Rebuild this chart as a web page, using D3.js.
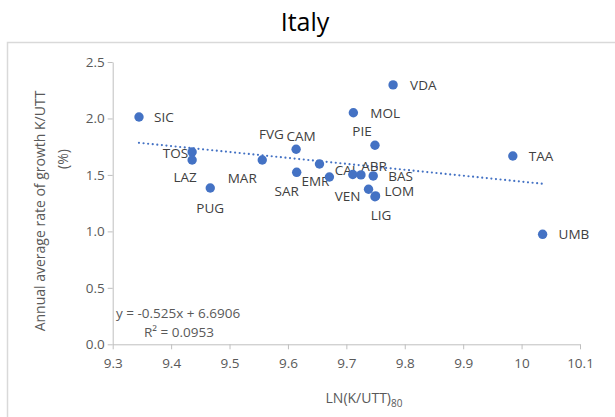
<!DOCTYPE html>
<html>
<head>
<meta charset="utf-8">
<script src="https://cdn.jsdelivr.net/npm/d3@7"></script>
<style>
  body { margin: 0; background: #fff; }
  text { font-family: "Open Sans", sans-serif; }
</style>
</head>
<body>
<svg id="main" width="615" height="417"></svg>
<script>
// regions and values
const regions = ['SIC', 'TOS', 'LAZ', 'PUG', 'MAR', 'CAM', 'SAR', 'FVG', 'EMR', 'CAL',
	'ABR', 'BAS', 'VEN', 'LOM', 'LIG', 'PIE', 'MOL', 'VDA', 'TAA', 'UMB'];
const lnK80 = [9.345, 9.436, 9.436, 9.467, 9.556, 9.614, 9.615, 9.654, 9.671, 9.711,
	9.725, 9.746, 9.738, 9.750, 9.749, 9.749, 9.712, 9.780, 9.985, 10.036];
const growth = [2.013, 1.703, 1.632, 1.384, 1.632, 1.727, 1.523, 1.597, 1.482, 1.504,
	1.500, 1.491, 1.373, 1.314, 1.307, 1.763, 2.051, 2.297, 1.668, 0.974];
const xTicks = [9.3, 9.4, 9.5, 9.6, 9.7, 9.8, 9.9, 10, 10.1];
const yTicks = [0, 0.5, 1, 1.5, 2, 2.5];
const slope = -0.525, intercept = 6.6906, r2 = '0.0953';

// where each data label sits relative to its point (px)
const labelPos = {
	SIC: ['start', 15, 0], TOS: ['end', -4, 1], LAZ: ['middle', -7, 17], PUG: ['middle', 0, 20],
	MAR: ['middle', -20, 18], CAM: ['middle', 5, -13], SAR: ['middle', -10, 19], FVG: ['middle', -48, -30],
	EMR: ['middle', -14, 4], CAL: ['middle', -6, -4], ABR: ['middle', 13, -9], BAS: ['start', 15, 0],
	VEN: ['end', -8, 7], LOM: ['start', 9, -5], LIG: ['middle', 6, 18], PIE: ['middle', -13, -14],
	MOL: ['start', 17, 0], VDA: ['start', 17, 0], TAA: ['start', 16, 0], UMB: ['start', 16, 0]
};

const blue = '#4472C4';
const svg = d3.select('#main');

let x = d3.scaleLinear().domain([9.3, 10.1]).range([112.7, 580]);
let y = d3.scaleLinear().domain([0, 2.5]).range([344.3, 62]);

// chart frame (top and left edges visible)
svg.append('path')
	.attr('d', 'M7.5,417 V42.5 H615')
	.attr('fill', 'none')
	.attr('stroke', '#d9d9d9')
	.attr('stroke-width', 1.5);

svg.append('text')
	.attr('x', 305).attr('y', 31)
	.attr('text-anchor', 'middle')
	.style('font-size', '25px')
	.attr('fill', '#000')
	.text('Italy');

// axes
let xAxis = svg.append('g')
	.attr('transform', `translate(0,${y(0)})`)
	.call(d3.axisBottom(x).tickValues(xTicks).tickSize(5).tickSizeOuter(0).tickFormat(d => d === 10 ? '10' : d3.format('.1f')(d)));
let yAxis = svg.append('g')
	.attr('transform', `translate(${x(9.3)},0)`)
	.call(d3.axisLeft(y).tickValues(yTicks).tickSize(5).tickSizeOuter(0).tickFormat(d3.format('.1f')));

[xAxis, yAxis].forEach(g => {
	g.select('.domain').attr('stroke', '#bfbfbf');
	g.selectAll('.tick line').attr('stroke', '#bfbfbf');
	g.selectAll('.tick text')
		.attr('fill', '#595959')
		.style('font-size', '13.5px')
		.style('font-family', '"Open Sans", sans-serif');
});
xAxis.selectAll('.tick text').attr('dy', '1.2em');
yAxis.selectAll('.tick text').attr('x', -8);

// axis titles
let xt = svg.append('text')
	.attr('x', 364).attr('y', 403)
	.attr('text-anchor', 'middle')
	.attr('fill', '#595959')
	.style('font-size', '14px');
xt.append('tspan').text('LN(K/UTT)');
xt.append('tspan').attr('dy', 4).style('font-size', '10px').text('80');

svg.append('text')
	.attr('transform', 'translate(45,211) rotate(-90)')
	.attr('text-anchor', 'middle')
	.attr('fill', '#595959')
	.style('font-size', '14px')
	.text('Annual average rate of growth K/UTT');
svg.append('text')
	.attr('transform', 'translate(68,159) rotate(-90)')
	.attr('text-anchor', 'middle')
	.attr('fill', '#595959')
	.style('font-size', '14px')
	.text('(%)');

// trendline
let xr = d3.extent(lnK80);
svg.append('line')
	.attr('x1', x(xr[0])).attr('y1', y(slope * xr[0] + intercept))
	.attr('x2', x(xr[1])).attr('y2', y(slope * xr[1] + intercept))
	.attr('stroke', blue)
	.attr('stroke-width', 2.2)
	.attr('stroke-linecap', 'round')
	.attr('stroke-dasharray', '0 4.6');

svg.append('text')
	.attr('x', 116).attr('y', 318)
	.attr('fill', '#595959')
	.style('font-size', '13.5px')
	.text(`y = ${slope}x + ${intercept}`);
svg.append('text')
	.attr('x', 144).attr('y', 337)
	.attr('fill', '#595959')
	.style('font-size', '13.5px')
	.text(`R² = ${r2}`);

let pts = regions.map((r, i) => ({ name: r, x: lnK80[i], y: growth[i] }));

svg.append('g')
	.selectAll('text')
	.data(pts)
	.enter()
	.append('text')
	.attr('x', d => x(d.x) + labelPos[d.name][1])
	.attr('y', d => y(d.y) + labelPos[d.name][2])
	.attr('dy', '0.36em')
	.attr('text-anchor', d => labelPos[d.name][0])
	.attr('fill', '#404040')
	.style('font-size', '13.5px')
	.text(d => d.name);

svg.append('g')
	.selectAll('circle')
	.data(pts)
	.enter()
	.append('circle')
	.attr('cx', d => x(d.x))
	.attr('cy', d => y(d.y))
	.attr('r', 4.7)
	.attr('fill', blue);
</script>
</body>
</html>
